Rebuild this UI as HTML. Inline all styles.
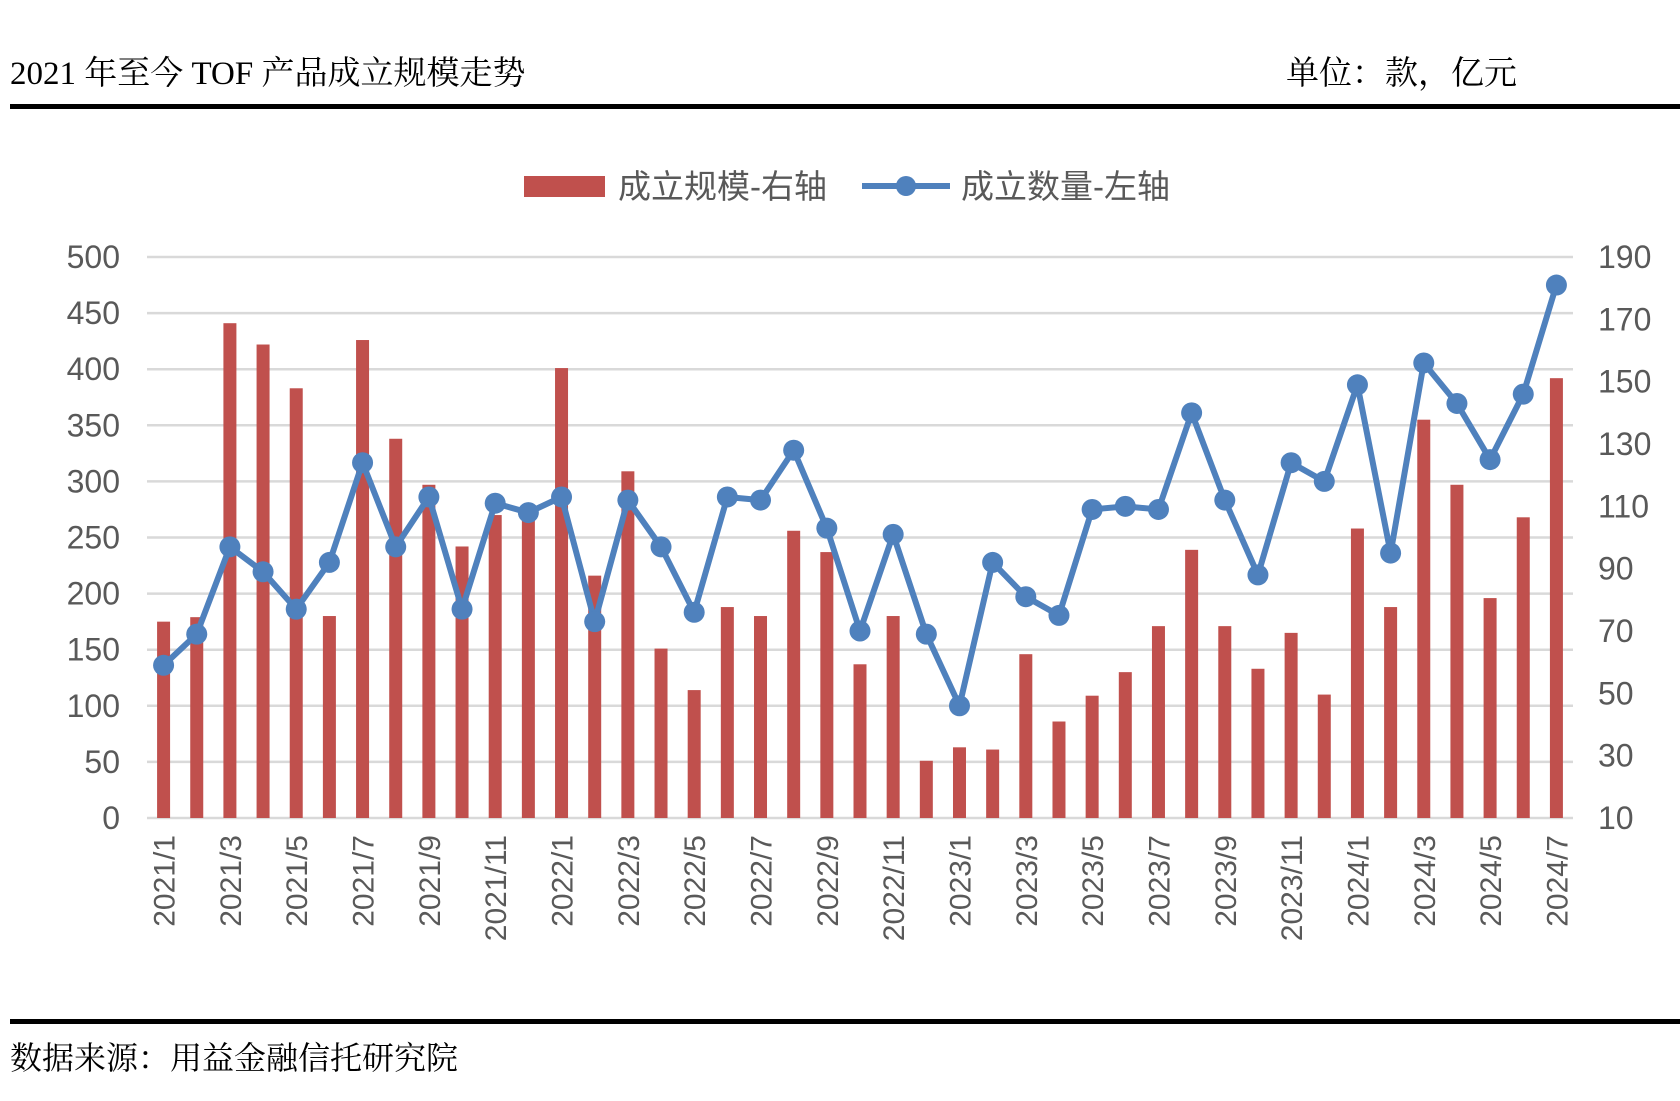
<!DOCTYPE html>
<html><head><meta charset="utf-8"><style>
body{margin:0;background:#fff;width:1680px;height:1096px;overflow:hidden;}
svg text{font-family:"Liberation Sans","Noto Sans CJK SC",sans-serif;}
</style></head><body>
<svg id="chart" width="1680" height="1096" xmlns="http://www.w3.org/2000/svg">
<text x="10" y="84" font-size="33" fill="#000" style="font-family:'Liberation Serif','Noto Serif CJK SC',serif">2021 年至今 TOF 产品成立规模走势</text>
<text x="1286" y="84" font-size="33" fill="#000" style="font-family:'Liberation Serif','Noto Serif CJK SC',serif">单位：款，亿元</text>
<rect x="10" y="104" width="1670" height="5" fill="#000"/>
<rect x="10" y="1019" width="1670" height="5" fill="#000"/>
<text x="10" y="1069" font-size="32" fill="#000" style="font-family:'Liberation Serif','Noto Serif CJK SC',serif">数据来源：用益金融信托研究院</text>
<g>
<rect x="524" y="176" width="81" height="21" fill="#c0504d"/>
<text x="618" y="198" font-size="33" fill="#595959">成立规模-右轴</text>
<line x1="862" y1="186" x2="950" y2="186" stroke="#4f81bd" stroke-width="6"/>
<circle cx="906" cy="186" r="10" fill="#4f81bd"/>
<text x="961" y="198" font-size="33" fill="#595959">成立数量-左轴</text>
</g>
<g id="grid"></g><g id="bars"></g><g id="line"></g><g id="axes"></g>
</svg>
<script>
const categories=["2021/1","2021/2","2021/3","2021/4","2021/5","2021/6","2021/7","2021/8","2021/9","2021/10","2021/11","2021/12","2022/1","2022/2","2022/3","2022/4","2022/5","2022/6","2022/7","2022/8","2022/9","2022/10","2022/11","2022/12","2023/1","2023/2","2023/3","2023/4","2023/5","2023/6","2023/7","2023/8","2023/9","2023/10","2023/11","2023/12","2024/1","2024/2","2024/3","2024/4","2024/5","2024/6","2024/7"];
const barValues=[175,179,441,422,383,180,426,338,297,242,270,272,401,216,309,151,114,188,180,256,237,137,180,51,63,61,146,86,109,130,171,239,171,133,165,110,258,188,355,297,196,268,392];
const lineValues=[59,69,97,89,77,92,124,97,113,77,111,108,113,73,112,97,76,113,112,128,103,70,101,69,46,92,81,75,109,110,109,140,112,88,124,118,149,95,156,143,125,146,181];
const leftTicks=[0,50,100,150,200,250,300,350,400,450,500];
const rightTicks=[10,30,50,70,90,110,130,150,170,190];
const NS="http://www.w3.org/2000/svg";
const X0=147,X1=1573,Y0=818,Y1=257;
const band=(X1-X0)/categories.length;
const xc=i=>X0+band*(i+0.5);
const yL=v=>Y0-(v-0)/500*(Y0-Y1);
const yR=v=>Y0-(v-10)/180*(Y0-Y1);
function mk(tag,attrs,parent,txt){const e=document.createElementNS(NS,tag);for(const k in attrs)e.setAttribute(k,attrs[k]);if(txt!==undefined)e.textContent=txt;document.getElementById(parent).appendChild(e);return e;}
leftTicks.forEach(t=>{
 const l=mk('line',{x1:X0,x2:X1,y1:yL(t),y2:yL(t),stroke:'#d9d9d9','stroke-width':2.5},'grid');
 
 
 const tx=mk('text',{x:120,y:yL(t)+11,'text-anchor':'end','font-size':32,fill:'#595959'},'axes',String(t));
 
 
});
rightTicks.forEach(t=>{
 const tx=mk('text',{x:1598,y:yR(t)+11,'font-size':32,fill:'#595959'},'axes',String(t));
 
 
});
const bw=13;
barValues.forEach((v,i)=>{
 const r=mk('rect',{x:xc(i)-bw/2,y:yL(v),width:bw,height:Y0-yL(v),fill:'#c0504d'},'bars');
 
 
});
const pts=lineValues.map((v,i)=>xc(i)+','+yR(v)).join(' ');
const pl=mk('polyline',{points:pts,fill:'none',stroke:'#4f81bd','stroke-width':6,'stroke-linejoin':'round'},'line');


lineValues.forEach((v,i)=>{
 const c=mk('circle',{cx:xc(i),cy:yR(v),r:10.5,fill:'#4f81bd'},'line');
 
 
});
categories.forEach((c,i)=>{
 if(i%2!==0)return;
 const x=xc(i)+11,y=835;
 const tx=mk('text',{x:x,y:y,'text-anchor':'end','font-size':30,fill:'#595959',transform:`rotate(-90 ${x} ${y})`},'axes',c);
 
 
});
</script>
</body></html>
